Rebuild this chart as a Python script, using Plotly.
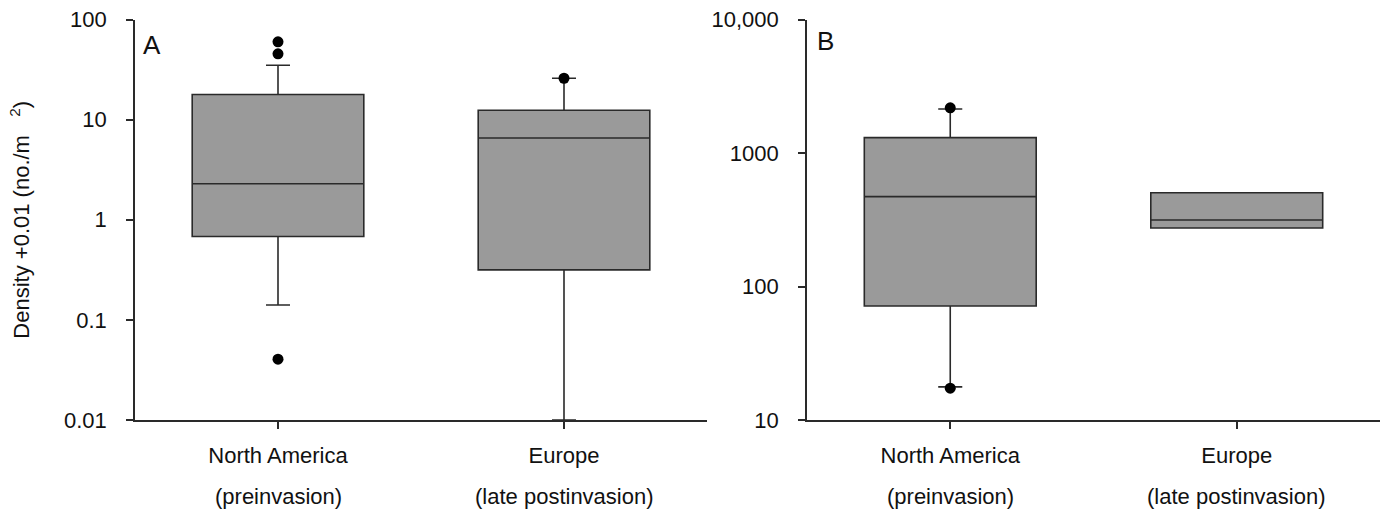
import plotly.graph_objects as go

# ---- data ----
categories = ["North America", "Europe"]
cat_sub = ["(preinvasion)", "(late postinvasion)"]
cat_pos = [0, 1]

# Panel A
a_q1 = [0.68, 0.316]
a_median = [2.29, 6.56]
a_q3 = [17.8, 12.4]
a_low = [0.141, 0.01]
a_high = [34.9, 25.9]
a_out_x = [0, 0, 0, 1]
a_out_y = [59.8, 45.4, 0.0405, 25.9]
a_tickvals = [0.01, 0.1, 1, 10, 100]
a_ticktext = ["0.01", "0.1", "1", "10", "100"]

# Panel B
b_q1 = [71.4, 274]
b_median = [471, 315]
b_q3 = [1303, 504]
b_low = [17.7, 274]
b_high = [2137, 504]
b_out_x = [0, 0]
b_out_y = [2180, 17.3]
b_tickvals = [10, 100, 1000, 10000]
b_ticktext = ["10", "100", "1000", "10,000"]

W, H = 1387, 513
FONT = "Liberation Sans, Arial, sans-serif"
LINE = "#2a2a2a"
FILL = "#9a9a9a"
FS = 22

fig = go.Figure()

def add_panel(q1, med, q3, lo, hi, ox, oy, xa, ya):
    fig.add_trace(go.Box(
        x=cat_pos, q1=q1, median=med, q3=q3, lowerfence=lo, upperfence=hi,
        width=0.6, whiskerwidth=0.14, fillcolor=FILL,
        line=dict(color=LINE, width=1.6), boxpoints=False,
        xaxis=xa, yaxis=ya, showlegend=False, hoverinfo="skip"))
    fig.add_trace(go.Scatter(
        x=ox, y=oy, mode="markers",
        marker=dict(color="black", size=11),
        xaxis=xa, yaxis=ya, showlegend=False, hoverinfo="skip"))

add_panel(a_q1, a_median, a_q3, a_low, a_high, a_out_x, a_out_y, "x", "y")
add_panel(b_q1, b_median, b_q3, b_low, b_high, b_out_x, b_out_y, "x2", "y2")

ytop, ybot = 19.5, 420
ydom = [(H - ybot) / H, (H - ytop) / H]
xdomA = [135 / W, 707 / W]
xdomB = [807 / W, 1380 / W]

axis_common = dict(
    showline=True, linecolor=LINE, linewidth=1.6, ticks="outside",
    tickcolor=LINE, tickwidth=1.6, ticklen=7, showgrid=False, zeroline=False,
    tickfont=dict(family=FONT, size=FS, color="#111"), automargin=False,
)

fig.update_layout(
    width=W, height=H, autosize=False,
    margin=dict(l=0, r=0, t=0, b=0),
    paper_bgcolor="white", plot_bgcolor="white",
    font=dict(family=FONT, size=FS, color="#111"),
    xaxis=dict(domain=xdomA, range=[-0.5, 1.5], tickvals=cat_pos,
               ticktext=categories, anchor="y", ticklabelstandoff=8, **axis_common),
    yaxis=dict(domain=ydom, type="log", range=[-2, 2], tickvals=a_tickvals,
               ticktext=a_ticktext, anchor="x", ticklabelstandoff=15,
               title=dict(text="Density +0.01 (no./m&nbsp;&nbsp;&nbsp;<sup>2</sup>)",
                          font=dict(family=FONT, size=FS, color="#111"), standoff=28),
               **axis_common),
    xaxis2=dict(domain=xdomB, range=[-0.5, 1.5], tickvals=cat_pos,
                ticktext=categories, anchor="y2", ticklabelstandoff=8, **axis_common),
    yaxis2=dict(domain=ydom, type="log", range=[1, 4], tickvals=b_tickvals,
                ticktext=b_ticktext, anchor="x2", ticklabelstandoff=15, **axis_common),
)

# second line of category labels
for xa in ["x", "x2"]:
    for p, s in zip(cat_pos, cat_sub):
        fig.add_annotation(x=p, y=(H - 506) / H, xref=xa, yref="paper",
                           text=s, showarrow=False, xanchor="center", yanchor="bottom",
                           font=dict(family=FONT, size=FS, color="#111"), yshift=-5)

# panel letters
fig.add_annotation(x=141 / W, y=(H - 28) / H, xref="paper", yref="paper", text="A",
                   showarrow=False, xanchor="left", yanchor="top",
                   font=dict(family=FONT, size=26, color="#111"))
fig.add_annotation(x=815 / W, y=(H - 24) / H, xref="paper", yref="paper", text="B",
                   showarrow=False, xanchor="left", yanchor="top",
                   font=dict(family=FONT, size=26, color="#111"))

fig.write_html("out.html")
